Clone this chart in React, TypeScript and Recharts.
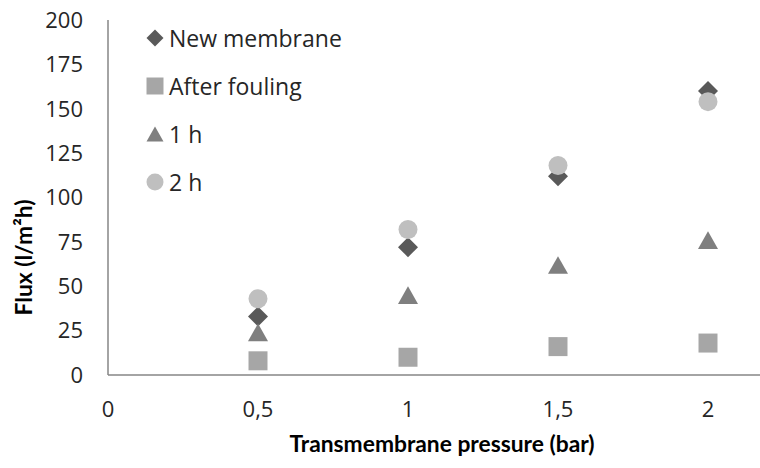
import React from 'react';
import { ScatterChart, Scatter, XAxis, YAxis, Legend, Label } from 'recharts';

// Transmembrane pressure (bar) and measured flux (l/m²h) per membrane state
const pressures = [0.5, 1, 1.5, 2];
const newMembrane = [33, 72, 112, 160];
const afterFouling = [8, 10, 16, 18];
const oneHour = [24, 45, 62, 76];
const twoHours = [43, 82, 118, 154];

const xTicks = [0, 0.5, 1, 1.5, 2];
const yTicks = [0, 25, 50, 75, 100, 125, 150, 175, 200];

const seriesNames = ['New membrane', 'After fouling', '1 h', '2 h'];
const seriesColors = ['#595959', '#a6a6a6', '#7f7f7f', '#bfbfbf'];

const toPoints = (values: number[]) => pressures.map((p, i) => ({ p, flux: values[i] }));

const FONT = '"Open Sans", "DejaVu Sans", sans-serif';
const TITLE_FONT = 'Lato, "Open Sans", sans-serif';

type Kind = 'diamond' | 'square' | 'triangle' | 'circle';
const kinds: Kind[] = ['diamond', 'square', 'triangle', 'circle'];

function markerPath(kind: Kind, cx: number, cy: number, s: number) {
  const r = s / 2;
  if (kind === 'diamond') {
    return `M${cx},${cy - r}L${cx + r},${cy}L${cx},${cy + r}L${cx - r},${cy}Z`;
  }
  if (kind === 'square') {
    return `M${cx - r},${cy - r}h${s}v${s}h${-s}Z`;
  }
  if (kind === 'triangle') {
    const h = s * 0.88;
    return `M${cx},${cy - h / 2}L${cx + r},${cy + h / 2}L${cx - r},${cy + h / 2}Z`;
  }
  return `M${cx - r},${cy}a${r},${r} 0 1,0 ${s},0a${r},${r} 0 1,0 ${-s},0Z`;
}

const makeShape = (kind: Kind, color: string, size: number) => (props: any) => {
  const { cx, cy } = props;
  if (cx == null || cy == null) return <g />;
  return <path d={markerPath(kind, cx, cy, size)} fill={color} />;
};

const markerSizes = [20, 19, 20, 19];

const LegendBox = () => (
  <div style={{ fontFamily: FONT, fontSize: 23, color: '#262626' }}>
    {seriesNames.map((name, i) => (
      <div key={name} style={{ display: 'flex', alignItems: 'center', height: 48 }}>
        <svg width={18} height={18} style={{ marginRight: 5 }}>
          <path d={markerPath(kinds[i], 9, 9, 17)} fill={seriesColors[i]} />
        </svg>
        <span style={{ lineHeight: '24px' }}>{name}</span>
      </div>
    ))}
  </div>
);

const fmt = (v: number) => String(v).replace('.', ',');

export default function App() {
  return (
    <div style={{ position: 'absolute', left: 0, top: 0, width: 760, height: 468, overflow: 'hidden', background: '#fff' }}>
      <ScatterChart width={800} height={468} margin={{ top: 20, right: 17, bottom: 33, left: 0 }}>
        <XAxis
          type="number"
          dataKey="p"
          domain={[0, 2.25]}
          ticks={xTicks}
          interval={0}
          tickFormatter={fmt}
          allowDataOverflow
          height={60}
          tickLine={false}
          tickSize={24}
          tickMargin={2}
          axisLine={{ stroke: '#868686', strokeWidth: 1.5 }}
          tick={{ fill: '#262626', fontSize: 22, fontFamily: FONT }}
        >
          <Label
            content={(props: any) => {
              const vb = props.viewBox || { x: 108, y: 375 };
              return (
                <text
                  x={vb.x + 334}
                  y={vb.y + 77}
                  textAnchor="middle"
                  fontFamily={TITLE_FONT}
                  fontWeight="bold"
                  fontSize={22.8}
                  fill="#000"
                >
                  Transmembrane pressure (bar)
                </text>
              );
            }}
          />
        </XAxis>
        <YAxis
          type="number"
          dataKey="flux"
          domain={[0, 200]}
          ticks={yTicks}
          interval={0}
          width={108}
          tickLine={false}
          tickSize={23}
          tickMargin={2}
          axisLine={{ stroke: '#868686', strokeWidth: 1.5 }}
          tick={{ fill: '#262626', fontSize: 22, fontFamily: FONT }}
        >
          <Label
            content={(props: any) => {
              const vb = props.viewBox || { x: 0, y: 20, height: 355 };
              const x = vb.x + 32;
              const y = vb.y + vb.height / 2 + 60;
              return (
                <text
                  x={x}
                  y={y}
                  transform={`rotate(-90, ${x}, ${y})`}
                  textAnchor="middle"
                  fontFamily={TITLE_FONT}
                  fontWeight="bold"
                  fontSize={22.8}
                  fill="#000"
                >
                  Flux (l/m²h)
                </text>
              );
            }}
          />
        </YAxis>
        <Legend
          layout="vertical"
          align="center"
          verticalAlign="middle"
          content={<LegendBox />}
          wrapperStyle={{ top: 14, left: 146, width: 220 }}
        />
        <Scatter name="New membrane" data={toPoints(newMembrane)} shape={makeShape('diamond', seriesColors[0], markerSizes[0])} isAnimationActive={false} />
        <Scatter name="After fouling" data={toPoints(afterFouling)} shape={makeShape('square', seriesColors[1], markerSizes[1])} isAnimationActive={false} />
        <Scatter name="1 h" data={toPoints(oneHour)} shape={makeShape('triangle', seriesColors[2], markerSizes[2])} isAnimationActive={false} />
        <Scatter name="2 h" data={toPoints(twoHours)} shape={makeShape('circle', seriesColors[3], markerSizes[3])} isAnimationActive={false} />
      </ScatterChart>
    </div>
  );
}
